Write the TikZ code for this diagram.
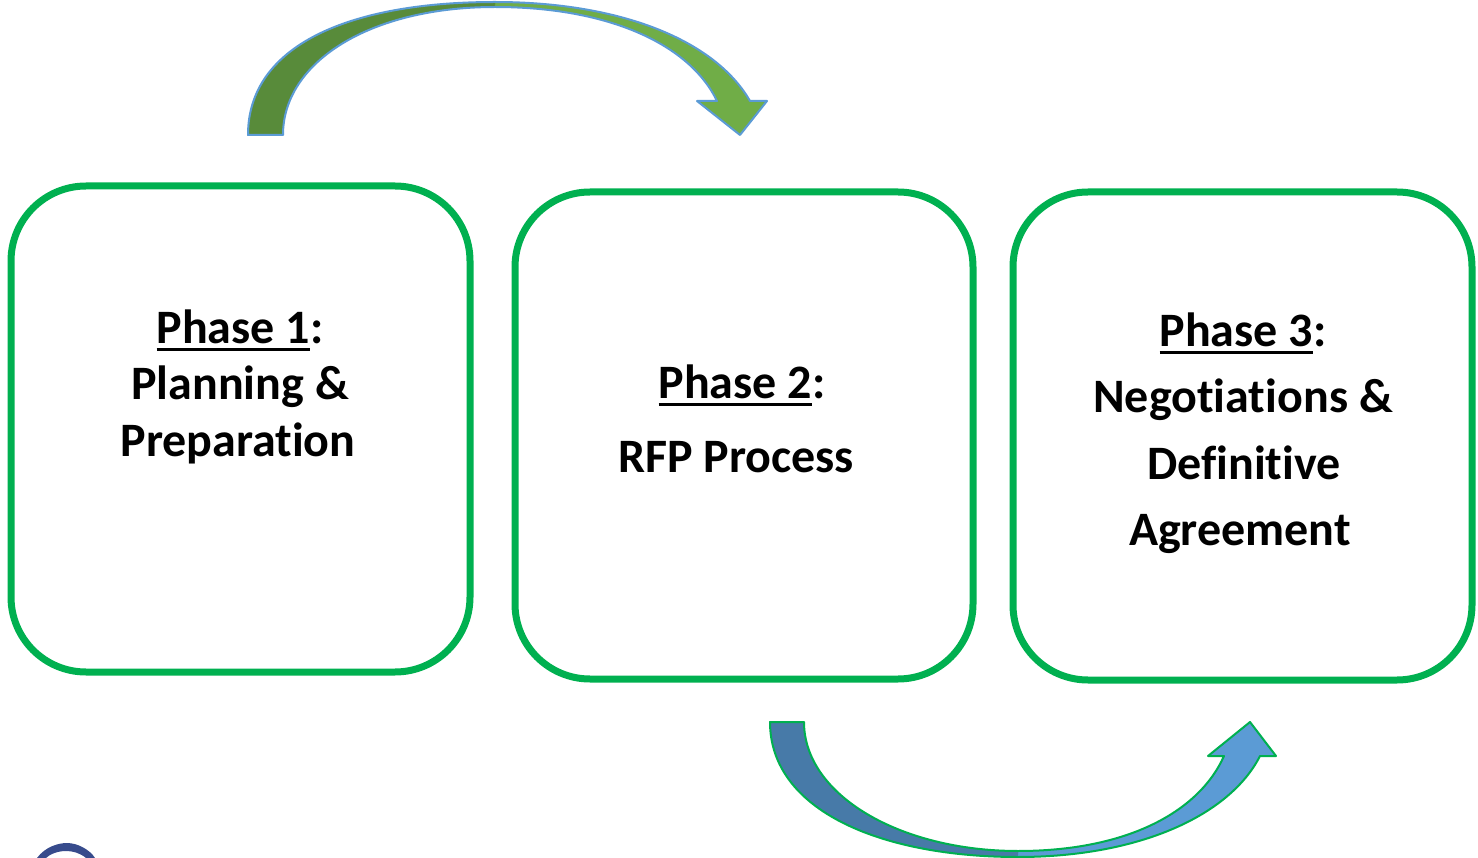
\documentclass[tikz,border=0pt]{standalone}
\usepackage{fontspec}
\setmainfont{Carlito}[Ligatures=NoCommon]
\definecolor{boxgreen}{RGB}{0,176,80}
\definecolor{arrblue}{RGB}{91,155,213}
\definecolor{dkgreen}{RGB}{88,139,58}
\definecolor{ltgreen}{RGB}{112,173,71}
\definecolor{dkblue}{RGB}{71,122,168}
\definecolor{ltblue}{RGB}{91,155,213}
\definecolor{navy}{RGB}{55,75,140}
\newcommand\ulx[1]{\setbox0\hbox{#1}\leavevmode\rlap{\rule[-7pt]{\wd0}{3pt}}\box0}
\tikzset{
  phasebox/.style={draw=boxgreen, line width=7pt, rounded corners=75pt, inner sep=0pt},
  lbl/.style={anchor=base, inner sep=0pt, font=\bfseries\fontsize{48}{48}\selectfont}
}
\begin{document}
\begin{tikzpicture}[x=1pt,y=-1pt]
\useasboundingbox (0,0) rectangle (1478,858);
% boxes
\node[phasebox, minimum width=459pt, minimum height=486pt] (b1) at (240.5,429) {};
\node[phasebox, minimum width=458pt, minimum height=487pt] (b2) at (744,435.5) {};
\node[phasebox, minimum width=459pt, minimum height=488pt] (b3) at (1242.5,436) {};
% texts
\node[lbl] (t1a) at (240,344) {\ulx{Phase 1}:};
\node[lbl] (t1b) at (240,400) {Planning \&};
\node[lbl] (t1c) at (238,456) {Preparation};
\node[lbl] (t2a) at (742,399) {\ulx{Phase 2}:};
\node[lbl] (t2b) at (736,472) {RFP Process};
\node[lbl] (t3a) at (1243,347) {\ulx{Phase 3}:};
\node[lbl] (t3b) at (1243,413) {Negotiations \&};
\node[lbl] (t3c) at (1244,479) {Definitive};
\node[lbl] (t3d) at (1240,545) {Agreement};
% top arrow
\fill[ltgreen] (495,2) .. controls (620,2) and (715,40) .. (750,101) -- (767,101) -- (740,135) -- (697,101) -- (717,101)
  .. controls (690,45) and (610,7) .. (495,7) -- cycle;
\fill[dkgreen] (248,135) .. controls (248,45) and (350,2) .. (495,2) -- (495,7)
  .. controls (370,7) and (283,62) .. (283,135) -- cycle;
\draw[arrblue, line width=2pt, line join=round] (248,135) .. controls (248,45) and (350,2) .. (495,2)
  .. controls (620,2) and (715,40) .. (750,101) -- (767,101) -- (740,135) -- (697,101) -- (717,101)
  .. controls (690,45) and (610,7) .. (495,7) .. controls (370,7) and (283,62) .. (283,135) -- cycle;
% bottom arrow
\fill[ltblue] (1018,857) .. controls (1140,857) and (1230,815) .. (1260,756) -- (1276,756) -- (1250,722) -- (1208,756) -- (1224,756)
  .. controls (1200,810) and (1130,851) .. (1018,851) -- cycle;
\fill[dkblue] (770,722) .. controls (770,810) and (880,857) .. (1018,857) -- (1018,851)
  .. controls (900,851) and (804,795) .. (804,722) -- cycle;
\draw[boxgreen, line width=2pt, line join=round] (770,722) .. controls (770,810) and (880,857) .. (1018,857)
  .. controls (1140,857) and (1230,815) .. (1260,756) -- (1276,756) -- (1250,722) -- (1208,756) -- (1224,756)
  .. controls (1200,810) and (1130,851) .. (1018,851) .. controls (900,851) and (804,795) .. (804,722) -- cycle;
% partial logo bottom-left
\fill[navy] (37,858) .. controls (45,847) and (58,843) .. (67,843) .. controls (78,843) and (90,850) .. (95,858)
  -- (86,858) .. controls (80,853) and (73,851) .. (66,851) .. controls (58,851) and (50,854) .. (46,858) -- cycle;
\end{tikzpicture}
\end{document}
